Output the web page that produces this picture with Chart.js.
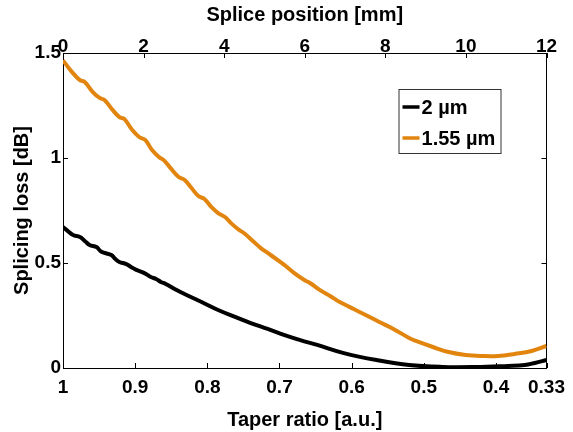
<!DOCTYPE html>
<html>
<head>
<meta charset="utf-8">
<script src="https://cdn.jsdelivr.net/npm/chart.js@4"></script>
<style>
	html, body { margin: 0; padding: 0; background: #fff; }
	#wrap { width: 573px; height: 432px; }
</style>
</head>
<body>
<div id="wrap"><canvas id="spliceChart" width="573" height="432"></canvas></div>
<script>
// Splice position [mm] and loss [dB]
const posOrange = [0, 0.22, 0.42, 0.54, 0.74, 0.91, 1.03, 1.23, 1.40, 1.52, 1.72, 1.89, 2.04, 2.21, 2.38, 2.50,
	2.67, 2.87, 3.02, 3.19, 3.36, 3.51, 3.68, 3.85, 4.02, 4.17, 4.34, 4.52, 4.71, 4.91, 5.08, 5.33, 5.50, 5.74,
	5.99, 6.13, 6.38, 6.63, 6.87, 7.12, 7.36, 7.61, 7.85, 8.20, 8.59, 8.76, 9.18, 9.57, 9.99, 10.40, 10.80,
	11.21, 11.63, 12.0];
const lossOrange = [1.465, 1.410, 1.371, 1.362, 1.314, 1.286, 1.276, 1.229, 1.195, 1.186, 1.133, 1.100, 1.086,
	1.038, 1.005, 0.990, 0.952, 0.910, 0.895, 0.857, 0.819, 0.805, 0.767, 0.738, 0.719, 0.690, 0.662, 0.638,
	0.605, 0.571, 0.548, 0.514, 0.490, 0.452, 0.419, 0.405, 0.371, 0.343, 0.314, 0.290, 0.267, 0.243, 0.219,
	0.186, 0.143, 0.129, 0.100, 0.076, 0.062, 0.057, 0.057, 0.067, 0.081, 0.105];

const posBlack = [0, 0.12, 0.25, 0.42, 0.54, 0.66, 0.83, 0.93, 1.03, 1.20, 1.30, 1.40, 1.57, 1.69, 1.82, 1.96,
	2.06, 2.18, 2.31, 2.43, 2.55, 2.82, 3.12, 3.44, 3.85, 4.27, 4.66, 5.08, 5.50, 5.89, 6.31, 6.97, 7.78, 8.59,
	9.42, 10.23, 11.04, 11.46, 11.71, 12.0];
const lossBlack = [0.671, 0.652, 0.633, 0.624, 0.605, 0.586, 0.576, 0.557, 0.548, 0.538, 0.519, 0.505, 0.495,
	0.481, 0.467, 0.457, 0.448, 0.433, 0.424, 0.410, 0.400, 0.371, 0.343, 0.314, 0.276, 0.243, 0.214, 0.186,
	0.157, 0.133, 0.110, 0.071, 0.038, 0.014, 0.005, 0.005, 0.010, 0.014, 0.024, 0.038];

const taperTicks = [1, 0.9, 0.8, 0.7, 0.6, 0.5, 0.4, 0.33];
const lossTicks = [0, 0.5, 1, 1.5];

const toPoints = (xs, ys) => xs.map((x, i) => ({ x: x, y: ys[i] }));

const tickFont = { family: 'Liberation Sans, Arial, sans-serif', size: 19, weight: 'bold' };
const titleFont = { family: 'Liberation Sans, Arial, sans-serif', size: 20, weight: 'bold' };
const noGrid = { display: false, drawTicks: false, tickLength: 0 };

// MATLAB style ticks pointing into the plot
const inwardTicks = {
	id: 'inwardTicks',
	afterDatasetsDraw(chart) {
		const { ctx, chartArea: a, scales } = chart;
		const len = 5;
		ctx.save();
		ctx.strokeStyle = '#000';
		ctx.lineWidth = 1;
		ctx.beginPath();
		scales.x.ticks.forEach(t => {
			const p = Math.round(scales.x.getPixelForValue(t.value)) + 0.5;
			ctx.moveTo(p, a.bottom); ctx.lineTo(p, a.bottom - len);
		});
		scales.x2.ticks.forEach(t => {
			const p = Math.round(scales.x2.getPixelForValue(t.value)) + 0.5;
			ctx.moveTo(p, a.top); ctx.lineTo(p, a.top + len);
		});
		scales.y.ticks.forEach(t => {
			const p = Math.round(scales.y.getPixelForValue(t.value)) + 0.5;
			ctx.moveTo(a.left, p); ctx.lineTo(a.left + len, p);
			ctx.moveTo(a.right, p); ctx.lineTo(a.right - len, p);
		});
		ctx.stroke();
		ctx.restore();
	}
};

// boxed legend in the upper right of the plot
const boxLegend = {
	id: 'boxLegend',
	afterDraw(chart) {
		const { ctx, chartArea: a } = chart;
		const x = a.right - 148, y = a.top + 36, w = 102, h = 64;
		ctx.save();
		ctx.fillStyle = '#fff';
		ctx.fillRect(x, y, w, h);
		ctx.strokeStyle = '#333';
		ctx.lineWidth = 1;
		ctx.strokeRect(x + 0.5, y + 0.5, w, h);
		ctx.font = 'bold 20px Liberation Sans, Arial, sans-serif';
		ctx.textBaseline = 'middle';
		chart.data.datasets.forEach((ds, i) => {
			const cy = y + 18 + i * 31;
			ctx.strokeStyle = ds.borderColor;
			ctx.lineWidth = 3.5;
			ctx.beginPath();
			ctx.moveTo(x + 4, cy); ctx.lineTo(x + 21, cy);
			ctx.stroke();
			ctx.fillStyle = '#000';
			ctx.fillText(ds.label, x + 23, cy + 1);
		});
		ctx.restore();
	}
};

new Chart(document.getElementById('spliceChart'), {
	type: 'line',
	data: {
		datasets: [{
			label: '2 µm',
			data: toPoints(posBlack, lossBlack),
			xAxisID: 'x2',
			borderColor: '#000000',
			borderWidth: 4,
			pointRadius: 0,
			tension: 0.4
		}, {
			label: '1.55 µm',
			data: toPoints(posOrange, lossOrange),
			xAxisID: 'x2',
			borderColor: '#e2850f',
			borderWidth: 4,
			pointRadius: 0,
			tension: 0.4
		}]
	},
	options: {
		responsive: false,
		animation: false,
		layout: { padding: 0 },
		plugins: {
			legend: { display: false },
			tooltip: { enabled: false }
		},
		scales: {
			x: {
				type: 'linear',
				position: 'bottom',
				min: 0.33,
				max: 1,
				reverse: true,
				afterBuildTicks: s => { s.ticks = taperTicks.map(v => ({ value: v })); },
				afterFit: s => { s.height = 64; },
				grid: noGrid,
				border: { display: true, color: '#000', width: 1 },
				ticks: { color: '#000', font: tickFont, padding: 8, maxRotation: 0, autoSkip: false, callback: v => String(v) },
				title: { display: true, text: 'Taper ratio [a.u.]', color: '#000', font: titleFont, padding: { top: 0, bottom: 0 } }
			},
			x2: {
				type: 'linear',
				position: 'top',
				min: 0,
				max: 12,
				ticks: { stepSize: 2, color: '#000', font: tickFont, padding: -5, maxRotation: 0 },
				afterFit: s => { s.height = 53; },
				grid: noGrid,
				border: { display: true, color: '#000', width: 1 },
				title: { display: true, text: 'Splice position [mm]', color: '#000', font: titleFont, padding: { top: 3, bottom: 0 } }
			},
			y: {
				position: 'left',
				min: 0,
				max: 1.5,
				afterBuildTicks: s => { s.ticks = lossTicks.map(v => ({ value: v })); },
				afterFit: s => { s.width = 63; },
				grid: noGrid,
				border: { display: true, color: '#000', width: 1 },
				ticks: { color: '#000', font: tickFont, padding: 2, callback: v => String(v) },
				title: { display: true, text: 'Splicing loss [dB]', color: '#000', font: titleFont, padding: { top: 10, bottom: 0 } }
			},
			y2: {
				position: 'right',
				min: 0,
				max: 1.5,
				afterFit: s => { s.width = 21; },
				grid: noGrid,
				border: { display: true, color: '#000', width: 1 },
				ticks: { display: false }
			}
		}
	},
	plugins: [inwardTicks, boxLegend]
});
</script>
</body>
</html>
